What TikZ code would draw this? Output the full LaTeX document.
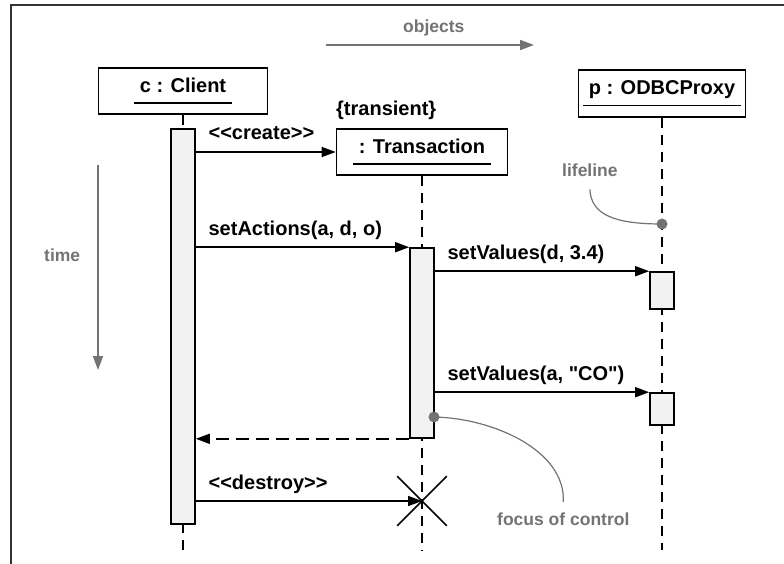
\documentclass[tikz,border=0pt]{standalone}
\usepackage{fontspec}
\setmainfont[Ligatures=TeXOff]{Liberation Sans}
\usepackage{tikz}
\usetikzlibrary{shapes,arrows.meta,calc}
\usepackage{xcolor}
\definecolor{annot}{RGB}{115,115,115}
\definecolor{barfill}{RGB}{242,242,242}
\tikzstyle{object} = [rectangle, draw, line width=1.6pt, minimum width=169pt, %
minimum height=46pt, inner sep=0pt, font=\fontsize{20}{24}\selectfont\bfseries]
\tikzstyle{activation} = [rectangle, draw, fill=barfill, line width=1.6pt, minimum width=24pt, inner sep=0pt]
\tikzstyle{lifeline} = [draw, line width=1.6pt, dash pattern=on 10pt off 7pt]
\tikzstyle{arrow} = [draw, line width=1.6pt, -{Triangle[length=14pt,width=10pt]}]
\tikzstyle{reply} = [arrow, dash pattern=on 13pt off 7pt]
\tikzstyle{msg} = [anchor=base west, inner sep=0pt, xshift=12pt, yshift=12pt, %
font=\fontsize{20}{24}\selectfont\bfseries]
\tikzstyle{remark} = [anchor=base west, inner sep=0pt, text=annot, font=\fontsize{17.5}{21}\selectfont\bfseries]
\tikzstyle{remarkarrow} = [draw=annot, line width=1.6pt, -{Triangle[length=14pt,width=10pt]}, annot]
\tikzstyle{remarkline} = [draw=annot, line width=1.2pt]
\tikzstyle{blob} = [circle, fill=annot, inner sep=0pt, minimum size=11pt]
% underlined object name
\newcommand{\uname}[1]{\setbox0=\hbox{#1}\dp0=0pt \dimen0=\wd0 \advance\dimen0 by 12pt%
\vtop{\hbox to\dimen0{\hfil\box0\hfil}\kern 10pt\hrule width\dimen0 height 1.6pt}}

\begin{document}
\begin{tikzpicture}[x=1pt, y=-1pt]
    \useasboundingbox (0,0) rectangle (784,564);
    \draw[line width=1.2pt, black!80] (11,564) -- (11,5) -- (784,5);
    % objects
    \node[object] (client) at (183,91) {\uname{c : Client}};
    \node[object, minimum width=171pt] (trans) at (422,152) {\uname{: Transaction}};
    \node[object, minimum width=167pt, minimum height=47pt] (proxy) at (662,93.5) {\uname{p : ODBCProxy}};
    \node[anchor=base west, inner sep=0pt, font=\fontsize{20}{24}\selectfont\bfseries] (transient) at (336,116) {\{transient\}};
    % lifelines
    \coordinate (cend) at (183,550);
    \coordinate (tend) at (422,550);
    \coordinate (pend) at (662,550);
    \path[lifeline] (client.south) -- (cend);
    \path[lifeline] (trans.south) -- (tend);
    \path[lifeline] (proxy.south) -- (pend);
    % focus of control
    \node[activation, minimum height=395pt] (actc) at (183,326.5) {};
    \node[activation, minimum height=190pt] (actt) at (422,343) {};
    \node[activation, minimum height=37pt] (actp1) at (662,290.5) {};
    \node[activation, minimum height=32pt] (actp2) at (662,409) {};
    \node[draw, cross out, line width=1.6pt, minimum size=48pt, inner sep=0pt] (kill) at (422,501) {};
    % messages
    \path[arrow] (actc.east |- trans.west) -- node[msg, at start] {<<create>>} (trans.west);
    \path[arrow] (actc.east |- actt.north west) -- node[msg, at start] {setActions(a, d, o)} (actt.north west);
    \path[arrow] (actt.east |- actp1.north) -- node[msg, at start] {setValues(d, 3.4)} (actp1.north west);
    \path[arrow] (actt.east |- actp2.north) -- node[msg, at start] {setValues(a, "CO")} (actp2.north west);
    \path[reply] (actt.south west) -- (actc.east |- actt.south west);
    \path[arrow] (actc.east |- kill) -- node[msg, at start] {<<destroy>>} (kill.center);
    % notes
    \node[remark] (objects) at (403,33) {objects};
    \coordinate (objfrom) at (326,45);
    \coordinate (objto) at (534,45);
    \path[remarkarrow] (objfrom) -- (objto);
    \node[remark] (time) at (44,261) {time};
    \coordinate (timefrom) at (98,165);
    \coordinate (timeto) at (98,370);
    \path[remarkarrow] (timefrom) -- (timeto);
    \node[remark] (lifelbl) at (562,177) {lifeline};
    \node[blob] (pdot) at (662,224) {};
    \path[remarkline] ($(lifelbl.south)+(0,12)$) .. controls (591,215) and (615,224) .. (pdot.center);
    \node[remark] (focuslbl) at (497,525) {focus of control};
    \node[blob] (fdot) at (434,417) {};
    \path[remarkline] (fdot.center) .. controls (492,418) and (566,450) .. ($(focuslbl.north)+(0,-10)$);
\end{tikzpicture}
\end{document}
